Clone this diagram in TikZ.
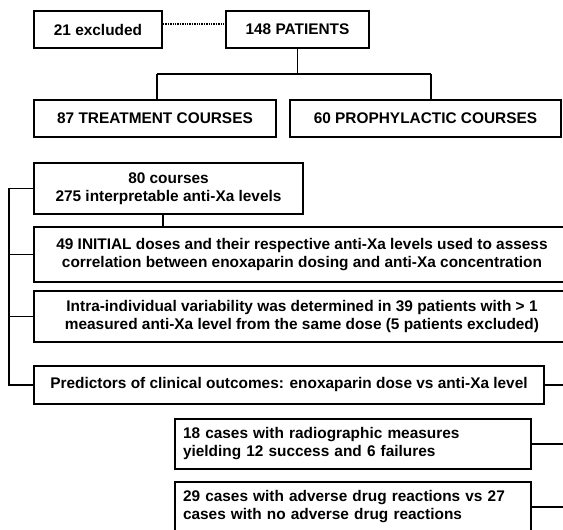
\documentclass[tikz,border=0pt]{standalone}
\usepackage{fontspec}
\setmainfont{Liberation Sans}
\begin{document}
\begin{tikzpicture}[x=1pt,y=-1pt,
  box/.style={draw, line width=1.8pt, inner sep=0pt, align=center,
    font=\bfseries\fontsize{15.4}{18}\selectfont},
  lbox/.style={box, align=left, text width=#1},
  link/.style={line width=1.5pt},
  dotlink/.style={line width=1.2pt, dash pattern=on 1.4pt off 1pt}]
\fill[white] (0,0) rectangle (563,530);
\clip (0,0) rectangle (563,530);
\useasboundingbox (0,0) rectangle (563,530);

\node[box, minimum width=128pt, minimum height=37pt] (ex) at (98,29.5) {21 excluded};
\node[box, minimum width=143pt, minimum height=37pt] (pat) at (297.5,29.5) {148 PATIENTS};
\node[box, minimum width=242pt, minimum height=37pt] (trt) at (155,118.5) {87 TREATMENT COURSES};
\node[box, minimum width=271pt, minimum height=37pt] (pro) at (425.5,118.5) {60 PROPHYLACTIC COURSES};

\node[box, minimum width=269pt, minimum height=51pt] (c80) at (168.5,188.5) {80 courses\\275 interpretable anti-Xa levels};
\node[box, minimum width=536pt, minimum height=55pt] (i49) at (302,254.5) {49 INITIAL doses and their respective anti-Xa levels used to assess\\correlation between enoxaparin dosing and anti-Xa concentration};
\node[box, minimum width=536pt, minimum height=51pt] (intra) at (302,316.5) {Intra-individual variability was determined in 39 patients with > 1\\measured anti-Xa level from the same dose (5 patients excluded)};
\node[box, minimum width=510pt, minimum height=38pt] (pred) at (289,385) {Predictors of clinical outcomes: enoxaparin dose vs anti-Xa level};

\node[lbox=340pt, minimum height=50pt, inner xsep=8pt] (c18) at (353,444) {18 cases with radiographic measures\\yielding 12 success and 6 failures};
\node[lbox=340pt, minimum height=50pt, inner xsep=8pt] (c29) at (353,507) {29 cases with adverse drug reactions vs 27\\cases with no adverse drug reactions};

% top tree
\coordinate (dy) at (0,24);
\draw[dotlink] (ex.east |- dy) -- (pat.west |- dy);
\coordinate (tl) at (157,74);
\coordinate (tr) at (431,74);
\draw[link] (pat.south) -- (pat.south |- tl);
\draw[link] (tl) -- (tr);
\draw[link] (tl) -- (tl |- trt.north);
\draw[link] (tr) -- (tr |- pro.north);

% 80 -> 49
\coordinate (cx) at (163,0);
\draw[link] (cx |- c80.south) -- (cx |- i49.north);

% left bracket
\coordinate (bt) at (9,0);
\draw[link] (c80.west) -- (c80.west -| bt) -- (pred.west -| bt) -- (pred.west);
\draw[link] (i49.west -| bt) -- (i49.west);
\draw[link] (intra.west -| bt) -- (intra.west);

% right stubs
\coordinate (re) at (565,0);
\draw[link] (pred.east) -- (pred.east -| re);
\draw[link] (c18.east) -- (c18.east -| re);
\draw[link] (c29.east) -- (c29.east -| re);
\end{tikzpicture}
\end{document}
